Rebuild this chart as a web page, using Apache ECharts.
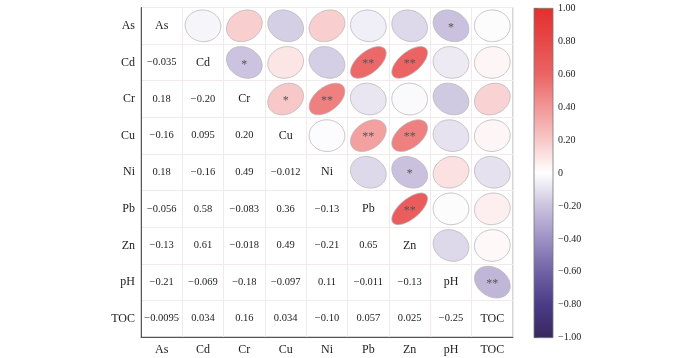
<!DOCTYPE html>
<html>
<head>
<meta charset="utf-8">
<script src="https://cdn.jsdelivr.net/npm/echarts@6/dist/echarts.min.js"></script>
<style>html,body{margin:0;padding:0;background:#fff}#c{width:700px;height:358px}</style>
</head>
<body>
<div id="c"></div>
<script>
var variables = ['As','Cd','Cr','Cu','Ni','Pb','Zn','pH','TOC'];
// lower triangle correlations, row i has i values (columns 0..i-1)
var corrLower = [
  [],
  [-0.035],
  [0.18, -0.20],
  [-0.16, 0.095, 0.20],
  [0.18, -0.16, 0.49, -0.012],
  [-0.056, 0.58, -0.083, 0.36, -0.13],
  [-0.13, 0.61, -0.018, 0.49, -0.21, 0.65],
  [-0.21, -0.069, -0.18, -0.097, 0.11, -0.011, -0.13],
  [-0.0095, 0.034, 0.16, 0.034, -0.10, 0.057, 0.025, -0.25]
];
var sigLower = [
  [],
  [''],
  ['', '*'],
  ['', '', '*'],
  ['', '', '**', ''],
  ['', '**', '', '**', ''],
  ['', '**', '', '**', '*', '**'],
  ['*', '', '', '', '', '', ''],
  ['', '', '', '', '', '', '', '**']
];
var colorbarTicks = [-1, -0.8, -0.6, -0.4, -0.2, 0, 0.2, 0.4, 0.6, 0.8, 1];
var colorStops = [
  [-1.0, '#38275f'], [-0.8, '#4a3b86'], [-0.6, '#6e62a4'], [-0.4, '#9d92c4'],
  [-0.2, '#cbc3df'], [0.0, '#ffffff'], [0.2, '#f8c8c8'], [0.4, '#f29696'],
  [0.6, '#eb6464'], [0.8, '#e64848'], [1.0, '#e2302e']
];

function hexToRgb(h){h=h.replace('#','');return [parseInt(h.substr(0,2),16),parseInt(h.substr(2,2),16),parseInt(h.substr(4,2),16)];}
function colorFor(v){
  for (var i=0;i<colorStops.length-1;i++){
    var a=colorStops[i], b=colorStops[i+1];
    if (v>=a[0] && v<=b[0]){
      var t=(v-a[0])/(b[0]-a[0]); var ca=hexToRgb(a[1]), cb=hexToRgb(b[1]);
      return 'rgb('+Math.round(ca[0]+(cb[0]-ca[0])*t)+','+Math.round(ca[1]+(cb[1]-ca[1])*t)+','+Math.round(ca[2]+(cb[2]-ca[2])*t)+')';
    }
  }
  return colorStops[colorStops.length-1][1];
}
function fmt(v){ return v.toPrecision(2).replace('-', '\u2212'); }

var n = variables.length;
var cells = [];
for (var i=0;i<n;i++){
  for (var j=0;j<n;j++){
    if (i===j) cells.push([j, i, 0, 'diag']);
    else if (j<i) cells.push([j, i, corrLower[i][j], 'num']);
    else cells.push([j, i, corrLower[j][i], 'ell', sigLower[j][i]]);
  }
}

var FONT = '"Liberation Serif","Times New Roman",serif';

function renderCell(params, api){
  var col = api.value(0), row = api.value(1);
  var item = cells[params.dataIndex];
  var type = item[3], r = item[2];
  var c = api.coord([col, row]);
  var sz = api.size([1, 1]);
  if (type === 'diag'){
    return {type:'text', style:{x:c[0], y:c[1], text:variables[col], font:'12px '+FONT, fill:'#222', align:'center', verticalAlign:'middle'}};
  }
  if (type === 'num'){
    return {type:'text', style:{x:c[0], y:c[1], text:fmt(r), font:'10.5px '+FONT, fill:'#222', align:'center', verticalAlign:'middle'}};
  }
  var d = Math.acos(Math.max(-1, Math.min(1, r)));
  var sx = sz[0]*0.432, sy = sz[1]*0.432;
  var pts = [];
  for (var k=0;k<120;k++){
    var t = k/120*Math.PI*2;
    pts.push([c[0] + Math.cos(t + d/2)*sx, c[1] - Math.cos(t - d/2)*sy]);
  }
  var children = [{type:'polygon', shape:{points:pts}, style:{fill:colorFor(r), stroke:'#b8b4b8', lineWidth:0.8}}];
  if (item[4]){
    children.push({type:'text', style:{x:c[0], y:c[1]+ (item[4]==='*'?2:1.5), text:item[4], font:'12px '+FONT, fill:'#555', align:'center', verticalAlign:'middle'}});
  }
  return {type:'group', children:children};
}

function renderBar(params, api){
  var p1 = api.coord([0, 1]), p2 = api.coord([1, -1]);
  var stops = colorStops.map(function(s){ return {offset:(1 - s[0])/2, color:s[1]}; }).reverse();
  return {type:'rect', shape:{x:p1[0], y:p1[1], width:p2[0]-p1[0], height:p2[1]-p1[1]},
    style:{fill:new echarts.graphic.LinearGradient(0,0,0,1,stops), stroke:'#777', lineWidth:0.8}};
}

var chart = echarts.init(document.getElementById('c'), null, {renderer:'canvas'});
chart.setOption({
  animation:false,
  backgroundColor:'#fff',
  grid:[
    {left:141, top:7.5, width:372, height:329.5, show:true, borderColor:'#aaa', borderWidth:1, backgroundColor:'transparent'},
    {left:534, top:8.3, width:19, height:329.4}
  ],
  xAxis:[
    {type:'category', gridIndex:0, data:variables, position:'bottom',
     axisLine:{show:true, lineStyle:{color:'#555', width:1}}, axisTick:{show:false},
     axisLabel:{fontFamily:FONT, fontSize:12, color:'#222', margin:7},
     splitLine:{show:true, lineStyle:{color:'#f1eaea', width:1}}},
    {type:'value', gridIndex:1, min:0, max:1, show:false}
  ],
  yAxis:[
    {type:'category', gridIndex:0, data:variables, inverse:true,
     axisLine:{show:true, lineStyle:{color:'#555', width:1}}, axisTick:{show:false},
     axisLabel:{fontFamily:FONT, fontSize:12, color:'#222', margin:6},
     splitLine:{show:true, lineStyle:{color:'#f1eaea', width:1}}},
    {type:'value', gridIndex:1, min:-1, max:1, interval:0.2, position:'right',
     axisLine:{show:false}, splitLine:{show:false},
     axisTick:{show:true, length:4, lineStyle:{color:'#555'}},
     axisLabel:{fontFamily:FONT, fontSize:10, color:'#222', margin:5,
       formatter:function(v){ return Math.abs(v)<1e-9 ? '0' : v.toFixed(2).replace('-', '\u2212'); }}}
  ],
  series:[
    {type:'custom', xAxisIndex:0, yAxisIndex:0, renderItem:renderCell, data:cells.map(function(c){return [c[0], c[1], c[2]];}), z:3},
    {type:'custom', xAxisIndex:1, yAxisIndex:1, renderItem:renderBar, data:[[0, 0]], z:3}
  ]
});
</script>
</body>
</html>
